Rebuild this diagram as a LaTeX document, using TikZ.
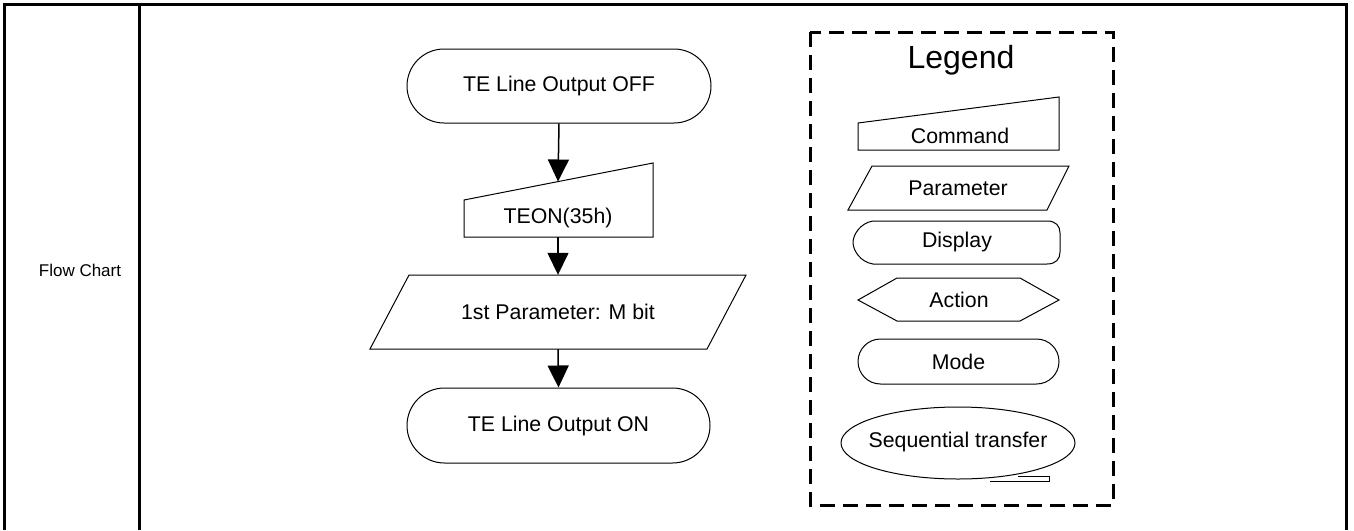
\documentclass[tikz,border=0pt]{standalone}
\usepackage{fontspec}
\setmainfont{Liberation Sans}
\usetikzlibrary{arrows.meta,shapes.misc,shapes.geometric}
\begin{document}
\begin{tikzpicture}[x=1pt,y=-1pt,
  font=\fontsize{21.3}{25}\selectfont,
  frame/.style={line width=3pt},
  shp/.style={draw,line width=1pt},
  arr/.style={line width=1.5pt,-{Triangle[length=22pt,width=21pt]}},
  lbl/.style={inner sep=0pt},
  stad/.style={shp,rounded rectangle,inner sep=0pt}]
\useasboundingbox (0,0) rectangle (1354,530);
% table frame
\draw[frame] (4,530) -- (4,4) -- (1346,4) -- (1346,530);
\draw[frame] (139,4) -- (139,530);
\node[lbl,font=\fontsize{17}{20}\selectfont] (fc) at (80,270) {Flow Chart};

% flow chart
\node[stad,minimum width=304pt,minimum height=74pt] (off) at (559,86) {TE Line Output OFF};

\draw[shp] (464,200) -- (653,163) -- (653,237) -- (464,237) -- cycle;
\node[lbl] (cmd) at (558,218) {TEON(35h)};
\coordinate (cmdtop) at (558,181.5);
\coordinate (cmdbot) at (558,237);

\draw[shp] (409,275) -- (746,275) -- (707,349) -- (370,349) -- cycle;
\node[minimum width=300pt,minimum height=74pt,inner sep=0pt] (par) at (558,312) {1st Parameter: M bit};

\node[stad,minimum width=303pt,minimum height=75pt] (on) at (558.5,425.5) {TE Line Output ON};

\draw[arr] (off.south) -- (cmdtop);
\draw[arr] (cmdbot) -- (par.north);
\draw[arr] (par.south) -- (on.north);

% legend
\draw[line width=3pt,dash pattern=on 15pt off 8pt] (810,32) rectangle (1113,505);
\node[lbl] (lg) at (961,60) {\fontsize{32}{38}\selectfont Legend};

\draw[shp] (858,123) -- (1059,97) -- (1059,150) -- (858,150) -- cycle;
\node[lbl] (lcmd) at (960,136) {Command};

\draw[shp] (872,166) -- (1069,166) -- (1047,210) -- (848,210) -- cycle;
\node[lbl] (lpar) at (958,188) {Parameter};

\draw[shp] (873,221) -- (1047,221) .. controls (1056,221) and (1060,226) .. (1060,233)
  -- (1060,252) .. controls (1060,259) and (1056,264) .. (1047,264) -- (873,264)
  .. controls (860,262) and (853,250) .. (853,242.5)
  .. controls (853,235) and (860,223) .. (873,221) -- cycle;
\node[lbl] (ldisp) at (957,242) {Display};

\draw[shp] (858,300) -- (897,278) -- (1020,278) -- (1059,300) -- (1020,321) -- (897,321) -- cycle;
\node[lbl] (lact) at (959,300) {Action};

\node[stad,minimum width=201pt,minimum height=45pt] (lmode) at (958.5,361.5) {Mode};

\draw[shp] (958,443) ellipse [x radius=117pt, y radius=36pt];
\draw[shp,fill=white] (1018,476.5) -- (1049,476.5) -- (1049,481) -- (990,481);
\node[lbl] (lseq) at (958,442) {Sequential transfer};
\end{tikzpicture}
\end{document}
